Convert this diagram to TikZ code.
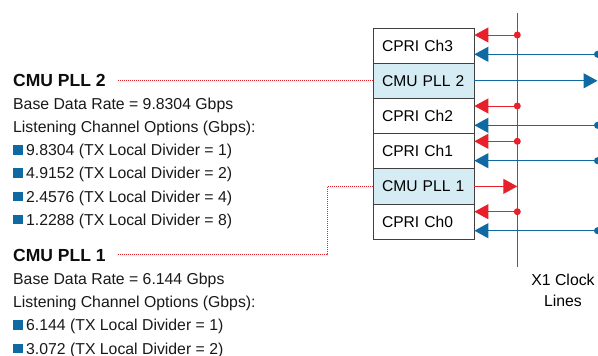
\documentclass[tikz,border=0pt]{standalone}
\usepackage{fontspec}
\setmainfont{Liberation Sans}
\usetikzlibrary{arrows.meta}
\definecolor{cred}{HTML}{E8202A}
\definecolor{cblue}{HTML}{0F69A3}
\definecolor{cfill}{HTML}{D5ECF4}
\begin{document}
\begin{tikzpicture}[x=1pt,y=-1pt,
  txt/.style={inner sep=0pt, anchor=base west, font=\fontsize{15.8}{18}\selectfont, text=black!90},
  ttl/.style={inner sep=0pt, anchor=base west, font=\fontsize{17.5}{20}\selectfont\bfseries, text=black!95},
  box/.style={draw=black!75, line width=0.8pt, minimum width=101pt, minimum height=35.2pt,
    text width=83pt, inner xsep=9pt, inner ysep=0pt, align=left, font=\fontsize{15.6}{18}\selectfont},
  pllbox/.style={box, fill=cfill},
  redarr/.style={draw=cred, line width=1pt, -{Triangle[length=14pt,width=15pt]}},
  bluearr/.style={draw=cblue, line width=1.3pt, -{Triangle[length=14pt,width=15pt]}},
  dotline/.style={draw=cred, line width=1pt, dash pattern=on 1pt off 1pt},
  sqmark/.style={fill=cblue, draw=none, minimum size=9.5pt, inner sep=0pt}
]
\fill[white] (0,0) rectangle (598,356);
\useasboundingbox (0,0) rectangle (598,356);

% boxes
\node[box]    (ch3)  at (423.5,45.6)  {CPRI Ch3};
\node[pllbox] (pll2) at (423.5,80.8)  {CMU PLL 2};
\node[box]    (ch2)  at (423.5,116.0) {CPRI Ch2};
\node[box]    (ch1)  at (423.5,151.2) {CPRI Ch1};
\node[pllbox] (pll1) at (423.5,186.4) {CMU PLL 1};
\node[box]    (ch0)  at (423.5,221.6) {CPRI Ch0};

% red clock line
\coordinate (vt) at (517.3,13);
\coordinate (vb) at (517.3,267);
\draw[cred, line width=1pt] (vt) -- (vb);

% red taps
\foreach \nm/\yy in {ch3/35, ch2/106, ch1/141.3, ch0/211.7}{
  \coordinate (d\nm) at (517.3,\yy);
  \draw[redarr] (d\nm) -- (\nm.east |- d\nm);
  \fill[cred] (d\nm) circle (3.5pt);
}
% blue lines
\foreach \nm/\yy in {ch3/54.3, ch2/125.3, ch1/160.7, ch0/230.7}{
  \coordinate (b\nm) at (597.5,\yy);
  \draw[bluearr] (b\nm) -- (\nm.east |- b\nm);
  \fill[cblue] (b\nm) circle (3.5pt);
}
% PLL outputs
\coordinate (o2) at (597.5,80.8);
\draw[bluearr] (pll2.east) -- (o2);
\draw[redarr] (pll1.east) -- (pll1.east -| vt);

% left texts PLL2
\node[ttl] (t2) at (13,86.7) {CMU PLL 2};
\node[txt] (t2a) at (13,109) {Base Data Rate = 9.8304 Gbps};
\node[txt] (t2b) at (13,132.3) {Listening Channel Options (Gbps):};
\foreach \i/\yy/\v/\d in {1/155.6/9.8304/1, 2/178.9/4.9152/2, 3/202.2/2.4576/4, 4/225.5/1.2288/8}{
  \node[sqmark] (m2\i) at (18,\yy-5.8) {};
  \node[txt] (i2\i) at (26,\yy) {\v\ (TX Local Divider = \d)};
}
% left texts PLL1
\node[ttl] (t1) at (13,261.7) {CMU PLL 1};
\node[txt] (t1a) at (13,284.3) {Base Data Rate = 6.144 Gbps};
\node[txt] (t1b) at (13,307.6) {Listening Channel Options (Gbps):};
\foreach \i/\yy/\v/\d in {1/330.9/6.144/1, 2/354.2/3.072/2}{
  \node[sqmark] (m1\i) at (18,\yy-5.8) {};
  \node[txt] (i1\i) at (26,\yy) {\v\ (TX Local Divider = \d)};
}

% dotted connectors
\coordinate (p2s) at (118,80.8);
\draw[dotline] (p2s) -- (pll2.west);
\coordinate (p1s) at (118,254.5);
\coordinate (p1c) at (327,186.4);
\draw[dotline] (p1s) -| (p1c) -- (pll1.west);

% clock label
\node[inner sep=0pt, anchor=base, font=\fontsize{15.8}{18}\selectfont] (x1a) at (563,285) {X1 Clock};
\node[inner sep=0pt, anchor=base, font=\fontsize{15.8}{18}\selectfont] (x1b) at (563,306.5) {Lines};
\end{tikzpicture}
\end{document}
